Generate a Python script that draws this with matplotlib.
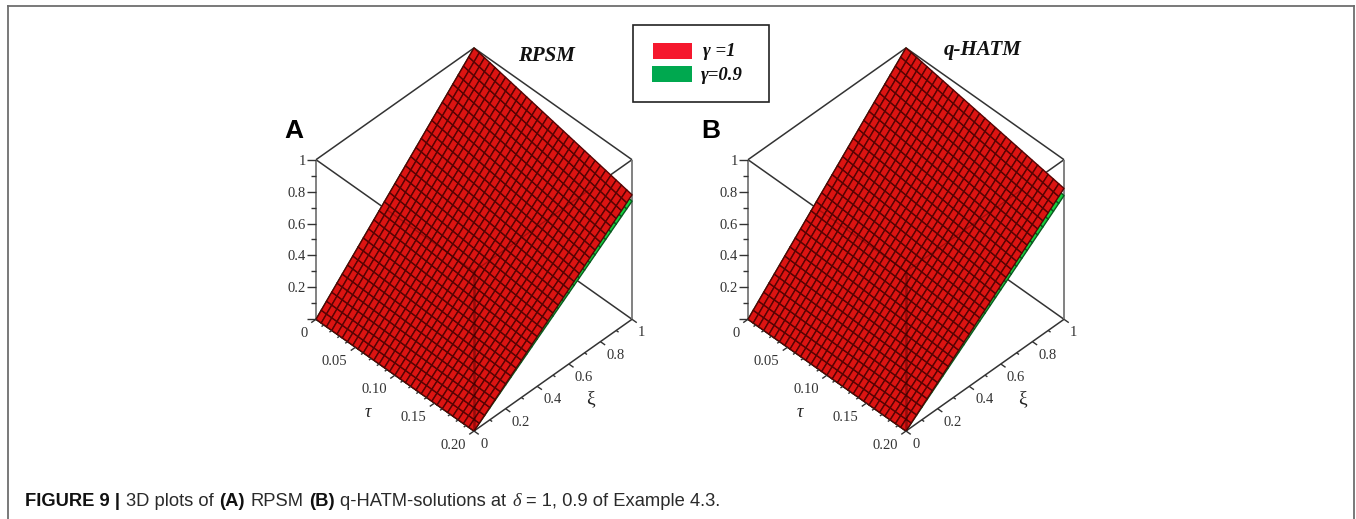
import numpy as np
import matplotlib
matplotlib.use('Agg')
import matplotlib.pyplot as plt
from matplotlib.lines import Line2D
from matplotlib.patches import Rectangle
from mpl_toolkits.mplot3d import proj3d

W, H = 1356, 519

# corners of the two surfaces
tau_ends = [0.0, 0.2]
xi_ends = [0.0, 1.0]
z_a_red = [[0.0, 1.0], [0.0, 0.78]]
z_a_green = [[0.0, 1.0], [0.0, 0.74]]
z_b_red = [[0.0, 1.0], [0.0, 0.82]]
z_b_green = [[0.0, 1.0], [0.0, 0.775]]

z_major = [0, 0.2, 0.4, 0.6, 0.8, 1]
z_labels = ['', '0.2', '0.4', '0.6', '0.8', '1']
z_minor = [0.1, 0.3, 0.5, 0.7, 0.9]
tau_major = [0, 0.05, 0.10, 0.15, 0.20]
tau_labels = ['0', '0.05', '0.10', '0.15', '0.20']
tau_minor = [0.01, 0.02, 0.03, 0.04, 0.06, 0.07, 0.08, 0.09,
             0.11, 0.12, 0.13, 0.14, 0.16, 0.17, 0.18, 0.19]
xi_major = [0, 0.2, 0.4, 0.6, 0.8, 1]
xi_labels = ['0', '0.2', '0.4', '0.6', '0.8', '1']
xi_minor = [0.1, 0.3, 0.5, 0.7, 0.9]

legend_labels = ['\u03b3 =1', '\u03b3=0.9']
caption_parts = [('FIGURE 9 |', 'bold'), ('3D plots of', 'normal'), ('(A)', 'bold'), ('RPSM', 'normal'),
                 ('(B)', 'bold'), ('q-HATM-solutions at', 'normal'), ('\u03b4', 'italic'),
                 ('= 1, 0.9 of Example 4.3.', 'normal')]

SERIF = 'Liberation Serif'
SANS = 'Liberation Sans'
N_MESH = 30  # cells of the drawn mesh, counted on the picture
BOX_PX = 377


def fx(x):
    return x / W


def fy(y):
    return 1 - y / H


def surface(ax, corners, color, edge_color, zorder):
    # the mesh is only the wire texture laid over the corner readings
    t = np.linspace(tau_ends[0], tau_ends[1], N_MESH + 1)
    x = np.linspace(xi_ends[0], xi_ends[1], N_MESH + 1)
    T, X = np.meshgrid(t, x, indexing='ij')
    c = np.array(corners)
    u = T / tau_ends[1]
    Z = (1 - u) * (c[0, 0] + (c[0, 1] - c[0, 0]) * X) + u * (c[1, 0] + (c[1, 1] - c[1, 0]) * X)
    ax.plot_surface(T, X, Z, rcount=N_MESH + 1, ccount=N_MESH + 1, color=color, shade=False,
                    edgecolor=edge_color, linewidth=1.0, zorder=zorder)


def edge(ax, a, b, **kw):
    ax.plot([a[0], b[0]], [a[1], b[1]], [a[2], b[2]], solid_capstyle='butt', **kw)


def label(ax, x, y, z, s, **kw):
    # flat text at the projected spot, so it may leave the axes box
    px, py, _ = proj3d.proj_transform(x, y, z, ax.get_proj())
    ax.text2D(px, py, s, transform=ax.transData, clip_on=False, **kw)


def panel(cx, z_red, z_green):
    S = BOX_PX
    cy = H - 239.5
    ax = fig.add_axes([(cx - 0.5135 * S) / W, (cy - 0.5135 * S) / H, S / W, S / H],
                      projection='3d', proj_type='ortho', computed_zorder=False)
    ax.view_init(elev=45, azim=-45)
    ax.set_box_aspect((1, 1, 1.01))
    ax.set_xlim(0, 0.2)
    ax.set_ylim(0, 1)
    ax.set_zlim(0, 1)
    ax.set_axis_off()
    ax.patch.set_alpha(0)

    line = dict(color='#333333', lw=1.1, zorder=1)
    edge(ax, (0, 0, 1), (0.2, 0, 1), **line)
    edge(ax, (0, 0, 1), (0, 1, 1), **line)
    edge(ax, (0, 1, 1), (0.2, 1, 1), **line)
    edge(ax, (0.2, 0, 1), (0.2, 1, 1), **line)
    edge(ax, (0, 1, 0), (0.2, 1, 0), **line)
    edge(ax, (0, 0, 0), (0.2, 0, 0), **line)
    edge(ax, (0.2, 0, 0), (0.2, 1, 0), **line)
    edge(ax, (0, 0, 0), (0, 0, 1), color='#777777', lw=1.3, zorder=1)
    edge(ax, (0.2, 1, 0), (0.2, 1, 1), color='#777777', lw=1.3, zorder=1)

    surface(ax, z_green, '#14d040', '#0a5a20', 2)
    surface(ax, z_red, '#dc1412', '#560303', 3)

    # box edges seen through the surface
    see = dict(color='#300000', zorder=4)
    edge(ax, (0.2, 0, 0), (0.2, 0, 1), lw=1.8, alpha=0.4, **see)
    edge(ax, (0.09, 0, 1), (0.2, 0, 1), lw=1.0, alpha=0.3, **see)
    edge(ax, (0.2, 0, 1), (0.2, 0.74, 1), lw=1.0, alpha=0.3, **see)

    tick = dict(color='#333333', lw=1.0, zorder=5)
    for v in z_major:
        edge(ax, (0, 0, v), (-0.006, -0.03, v), **tick)
    for v in z_minor:
        edge(ax, (0, 0, v), (-0.003, -0.015, v), **tick)
    for v in tau_major:
        edge(ax, (v, 0, 0), (v, -0.03, 0), **tick)
    for v in tau_minor:
        edge(ax, (v, 0, 0), (v, -0.015, 0), **tick)
    for v in xi_major:
        edge(ax, (0.2, v, 0), (0.206, v, 0), **tick)
    for v in xi_minor:
        edge(ax, (0.2, v, 0), (0.203, v, 0), **tick)

    for art in ax.get_children():
        art.set_clip_on(False)

    lab = dict(family=SERIF, fontsize=10.5, color='#333333')
    for v, s in zip(z_major, z_labels):
        if s:
            label(ax, -0.0065, -0.032, v - 0.01, s, ha='right', va='center', **lab)
    for v, s in zip(tau_major, tau_labels):
        label(ax, v + 0.002, -0.06, 0, s, ha='right', va='top', **lab)
    for v, s in zip(xi_major, xi_labels):
        label(ax, 0.21, v - 0.012, 0, s, ha='left', va='top', **lab)
    label(ax, 0.116, -0.25, 0, '\u03c4', ha='center', va='center', family=SERIF, style='italic',
          fontsize=13, color='#222222')
    label(ax, 0.245, 0.512, 0, '\u03be', ha='center', va='center', family=SERIF, fontsize=14,
          color='#222222')
    return ax


fig = plt.figure(figsize=(W / 100, H / 100), dpi=100)

panel(474, z_a_red, z_a_green)
panel(906, z_b_red, z_b_green)

# outer frame, open at the bottom
frame = dict(color='#6e6e6e', lw=1.3, transform=fig.transFigure)
fig.add_artist(Line2D([fx(8), fx(8)], [fy(519), fy(6)], **frame))
fig.add_artist(Line2D([fx(8), fx(1354)], [fy(6), fy(6)], **frame))
fig.add_artist(Line2D([fx(1354), fx(1354)], [fy(6), fy(519)], **frame))

# panel letters and titles
fig.text(fx(294), fy(131), 'A', family=SANS, weight='bold', fontsize=19, ha='center', va='center')
fig.text(fx(711), fy(131), 'B', family=SANS, weight='bold', fontsize=19, ha='center', va='center')
fig.text(fx(546), fy(56), 'RPSM', family=SERIF, weight='bold', style='italic', fontsize=15,
         ha='center', va='center', color='#111111')
fig.text(fx(983), fy(50), 'q-HATM', family=SERIF, weight='bold', style='italic', fontsize=15,
         ha='center', va='center', color='#111111')

# legend box
fig.add_artist(Rectangle((fx(632.5), fy(102)), 136.5 / W, 77 / H, transform=fig.transFigure,
                         facecolor='white', edgecolor='#222222', lw=1.2))
fig.add_artist(Rectangle((fx(653), fy(59)), 39 / W, 16 / H, transform=fig.transFigure,
                         facecolor='#f5182e', edgecolor='none'))
fig.add_artist(Rectangle((fx(652), fy(82)), 40 / W, 16 / H, transform=fig.transFigure,
                         facecolor='#00a84f', edgecolor='none'))
fig.text(fx(703), fy(51), legend_labels[0], family=SERIF, weight='bold', style='italic', fontsize=13.5,
         ha='left', va='center', color='#111111')
fig.text(fx(701), fy(75), legend_labels[1], family=SERIF, weight='bold', style='italic', fontsize=13.5,
         ha='left', va='center', color='#111111')

# caption, piece by piece because of the mixed weights
r = fig.canvas.get_renderer()
x = 25.0
for part, kind in caption_parts:
    kw = dict(family=SANS, fontsize=13.2, color='#2a2a2a', va='baseline', ha='left')
    if kind == 'bold':
        kw['weight'] = 'bold'
        kw['color'] = '#111111'
    if kind == 'italic':
        kw['family'] = SERIF
        kw['style'] = 'italic'
    t = fig.text(fx(x), fy(506), part, **kw)
    x += t.get_window_extent(r).width + 5.7

fig.savefig('out.png', dpi=100)
